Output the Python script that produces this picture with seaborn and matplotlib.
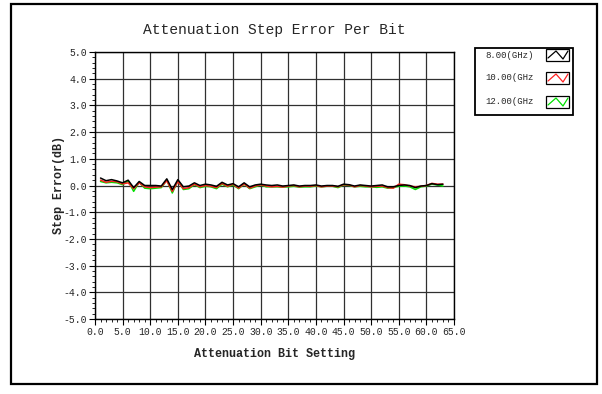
import numpy as np
import pandas as pd
import matplotlib
matplotlib.use("Agg")
import matplotlib.pyplot as plt
from matplotlib.patches import Rectangle
from matplotlib.lines import Line2D
from matplotlib.ticker import MultipleLocator, FormatStrFormatter
import seaborn as sns

bits = list(range(1, 64))
series_names = ["8.00(GHz)", "10.00(GHz", "12.00(GHz"]
series_colors = ["#000000", "#ff2020", "#00e000"]
err_8 = [0.28, 0.18, 0.22, 0.17, 0.10, 0.20, -0.08, 0.15, 0.00, 0.00,
         0.00, -0.02, 0.25, -0.15, 0.22, -0.05, -0.02, 0.10, 0.00, 0.05,
         0.02, -0.03, 0.12, 0.02, 0.07, -0.05, 0.10, -0.05, 0.02, 0.05,
         0.02, 0.00, 0.02, -0.02, 0.00, 0.02, -0.02, 0.00, 0.00, 0.02,
         -0.02, 0.00, 0.00, -0.03, 0.05, 0.03, -0.02, 0.02, 0.00, -0.02,
         0.00, 0.02, -0.05, -0.05, 0.00, 0.02, 0.00, -0.08, -0.02, 0.00,
         0.07, 0.03, 0.05]
err_10 = [0.20, 0.12, 0.16, 0.14, 0.06, 0.10, -0.12, 0.10, -0.05, -0.08,
          -0.06, -0.05, 0.18, -0.22, 0.15, -0.12, -0.08, 0.05, -0.05, 0.00,
          -0.03, -0.08, 0.08, -0.03, 0.05, -0.10, 0.06, -0.10, -0.02, 0.03,
          -0.02, -0.05, -0.03, -0.06, -0.02, 0.00, -0.05, -0.02, -0.03, 0.00,
          -0.05, -0.02, -0.02, -0.05, 0.03, 0.02, -0.05, 0.00, -0.02, -0.05,
          -0.03, -0.02, -0.08, -0.10, 0.05, 0.03, -0.02, -0.05, -0.03, 0.00,
          0.08, 0.05, 0.05]
err_12 = [0.15, 0.10, 0.12, 0.10, 0.03, 0.18, -0.22, 0.12, -0.10, -0.12,
          -0.10, -0.08, 0.20, -0.28, 0.18, -0.15, -0.12, 0.03, -0.08, -0.03,
          -0.05, -0.12, 0.05, -0.05, 0.02, -0.12, 0.05, -0.12, -0.05, 0.02,
          -0.05, -0.05, -0.05, -0.06, -0.05, -0.03, -0.06, -0.05, -0.05, -0.02,
          -0.05, -0.03, -0.03, -0.08, 0.02, 0.00, -0.05, -0.03, -0.05, -0.05,
          -0.07, -0.05, -0.10, -0.08, -0.03, -0.02, -0.05, -0.15, -0.05, -0.02,
          0.05, 0.02, -0.02]

df = pd.concat([
    pd.DataFrame({"bit": bits, "err": vals, "freq": name})
    for name, vals in zip(series_names, [err_8, err_10, err_12])
], ignore_index=True)

sns.set_theme(style="white")
FONT = ["Liberation Mono", "DejaVu Sans Mono"]
plt.rcParams["font.family"] = FONT

fig = plt.figure(figsize=(6.02, 3.94), dpi=100)
ax = fig.add_axes([95 / 602, 1 - 319 / 394, (454 - 95) / 602, (319 - 52) / 394])

palette = dict(zip(series_names, series_colors))
sns.lineplot(data=df, x="bit", y="err", hue="freq", hue_order=series_names[::-1],
             palette=palette, linewidth=1.1, legend=False, ax=ax, zorder=3)

ax.set_xlim(0, 65)
ax.set_ylim(-5, 5)
ax.xaxis.set_major_locator(MultipleLocator(5))
ax.xaxis.set_minor_locator(MultipleLocator(1))
ax.yaxis.set_major_locator(MultipleLocator(1))
ax.yaxis.set_minor_locator(MultipleLocator(0.2))
ax.xaxis.set_major_formatter(FormatStrFormatter("%.1f"))
ax.yaxis.set_major_formatter(FormatStrFormatter("%.1f"))
ax.tick_params(axis="both", which="major", direction="out", length=4, width=0.8,
               color="black", labelsize=7, pad=2, left=True, bottom=True)
ax.tick_params(axis="both", which="minor", direction="out", length=2, width=0.6,
               color="black", left=True, bottom=True)
ax.grid(True, which="major", color="#303030", linewidth=0.9)
for s in ax.spines.values():
    s.set_color("black")
    s.set_linewidth(1.0)

ax.set_xlabel("Attenuation Bit Setting", fontsize=8.5, fontweight="bold")
ax.set_ylabel("Step Error(dB)", fontsize=8.5, fontweight="bold")
ax.xaxis.set_label_coords(0.5, -0.13)
ax.xaxis.label.set_va("center")
ax.yaxis.set_label_coords(-0.1, 0.5)
ax.yaxis.label.set_va("center")

fig.text(274.5 / 602, 1 - 30 / 394, "Attenuation Step Error Per Bit",
         ha="center", va="center", fontsize=10.5, family=FONT)

# outer border
fig.add_artist(Rectangle((11 / 602, 1 - 384 / 394), 586 / 602, 380 / 394,
                         transform=fig.transFigure, fill=False,
                         edgecolor="black", linewidth=1.6))

# legend box
fig.add_artist(Rectangle((475 / 602, 1 - 115 / 394), 98 / 602, 67 / 394,
                         transform=fig.transFigure, fill=False,
                         edgecolor="black", linewidth=1.3))
entry_y = [55, 78, 102]
for name, col, yy in zip(series_names, series_colors, entry_y):
    fig.text(485 / 602, 1 - yy / 394, name, ha="left", va="center",
             fontsize=6.5, family=FONT)
    bx0, by0, bw, bh = 546, yy - 6, 23, 12
    fig.add_artist(Rectangle((bx0 / 602, 1 - (by0 + bh) / 394), bw / 602, bh / 394,
                             transform=fig.transFigure, fill=False,
                             edgecolor="black", linewidth=0.9))
    zx = [bx0 + 2, bx0 + 10, bx0 + 17, bx0 + 22]
    zy = [by0 + 9, by0 + 2, by0 + 10, by0 + 2]
    fig.add_artist(Line2D([v / 602 for v in zx], [1 - v / 394 for v in zy],
                          transform=fig.transFigure, color=col, linewidth=0.9))

fig.savefig("out.png", dpi=100)
